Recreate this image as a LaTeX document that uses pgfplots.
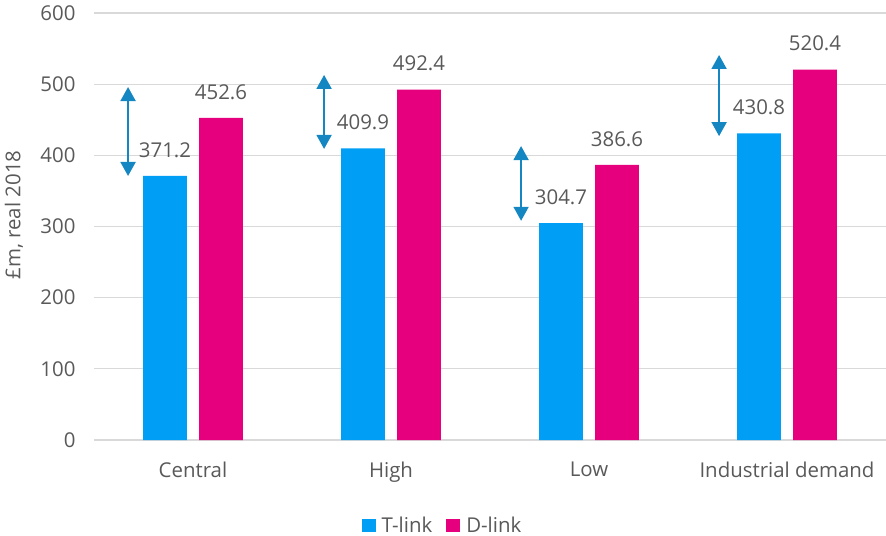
\documentclass[border=0pt]{standalone}
\usepackage{fontspec}
\setmainfont{Open Sans}
\usepackage{pgfplots}
\pgfplotsset{compat=1.18}
\usetikzlibrary{arrows.meta}
\definecolor{tblue}{RGB}{0,158,245}
\definecolor{dpink}{RGB}{230,0,126}
\definecolor{arr}{RGB}{20,135,195}
\definecolor{txt}{RGB}{89,89,89}
\definecolor{gridc}{RGB}{217,217,217}
\begin{document}
\begin{tikzpicture}
\begin{axis}[
  at={(0bp,0bp)}, anchor=south west,
  scale only axis, width=792bp, height=427bp,
  xmin=-0.5, xmax=3.5, ymin=0, ymax=600,
  ytick={0,100,...,600},
  xtick={0,1,2,3}, xticklabels={Central,High,Low,Industrial demand},
  axis line style={draw=none},
  major tick length=0pt,
  ymajorgrids, grid style={draw=gridc, line width=1.2bp},
  /pgf/number format/assume math mode=true,
  tick label style={font=\fontsize{20.5}{24}\selectfont, text=txt},
  yticklabel style={xshift=-15bp},
  xticklabel style={yshift=-18bp},
  ylabel={£m, real 2018},
  ylabel style={at={(axis description cs:-0.101,0.527)}, anchor=center, font=\fontsize{20.5}{24}\selectfont, text=txt},
  legend style={at={(axis description cs:0.44,-0.2)}, anchor=center, draw=none, legend columns=2,
    font=\fontsize{20.5}{24}\selectfont, text=txt,
    /tikz/every even column/.append style={column sep=12bp}},
  ybar, bar width=0.222,
  clip=false,
]
\addplot[fill=tblue, draw=none, bar shift=-0.1414,
  legend image code/.code={\path[fill=tblue] (0bp,-6.5bp) rectangle (14bp,6.5bp); \path (18bp,0bp);},
  nodes near coords, every node near coord/.append style={font=\fontsize{20.5}{24}\selectfont, text=txt, yshift=15bp},
  /pgf/number format/.cd, fixed, fixed zerofill, precision=1]
  coordinates {(0,371.2) (1,409.9) (2,304.7) (3,430.8)};
\addlegendentry{T-link}
\addplot[fill=dpink, draw=none, bar shift=0.1414,
  legend image code/.code={\path[fill=dpink] (0bp,-6.5bp) rectangle (14bp,6.5bp); \path (18bp,0bp);},
  nodes near coords, every node near coord/.append style={font=\fontsize{20.5}{24}\selectfont, text=txt, yshift=15bp},
  /pgf/number format/.cd, fixed, fixed zerofill, precision=1]
  coordinates {(0,452.6) (1,492.4) (2,386.6) (3,520.4)};
\addlegendentry{D-link}
\addplot[sharp plot, forget plot, draw=arr, line width=1.8bp, {Triangle[width=15bp,length=14bp]}-{Triangle[width=15bp,length=14bp]}]
  coordinates {(-0.328,371) (-0.328,496)};
\addplot[sharp plot, forget plot, draw=arr, line width=1.8bp, {Triangle[width=15bp,length=14bp]}-{Triangle[width=15bp,length=14bp]}]
  coordinates {(0.662,409) (0.662,513)};
\addplot[sharp plot, forget plot, draw=arr, line width=1.8bp, {Triangle[width=15bp,length=14bp]}-{Triangle[width=15bp,length=14bp]}]
  coordinates {(1.657,308) (1.657,413)};
\addplot[sharp plot, forget plot, draw=arr, line width=1.8bp, {Triangle[width=15bp,length=14bp]}-{Triangle[width=15bp,length=14bp]}]
  coordinates {(2.657,427) (2.657,541)};
\end{axis}
\pgfresetboundingbox
\path (-94bp,-96bp) rectangle (792bp,440bp);
\end{tikzpicture}
\end{document}
